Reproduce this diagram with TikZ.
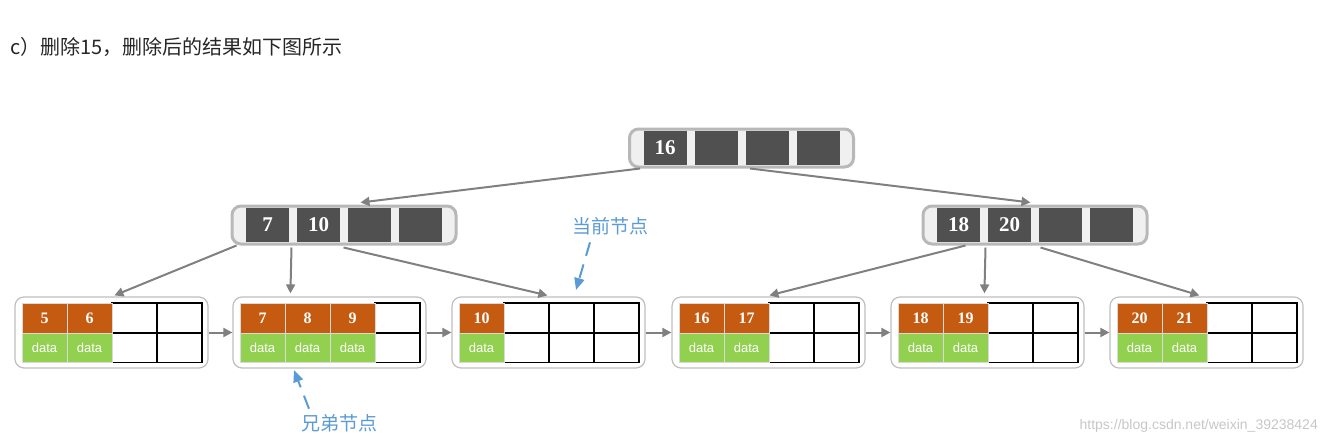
\documentclass[tikz,border=0pt]{standalone}
\usepackage{fontspec}
\setmainfont{Liberation Serif}
\newfontfamily\cjk{Noto Sans CJK SC}
\newfontfamily\sans{Liberation Sans}
\usetikzlibrary{calc,arrows.meta}
\definecolor{keyor}{HTML}{C55A11}
\definecolor{datagr}{HTML}{92D050}
\definecolor{darkc}{HTML}{505050}
\definecolor{conn}{HTML}{808080}
\definecolor{lblue}{HTML}{5B9BD5}
\tikzset{
 leaf/.style={draw=black!25,line width=1.2pt,rounded corners=9pt,fill=white,minimum width=193pt,minimum height=71pt,inner sep=0},
 inode/.style={draw=black!28,line width=3pt,rounded corners=9pt,fill=black!6,minimum width=224pt,minimum height=38pt,inner sep=0},
 dcell/.style={fill=darkc,minimum width=43pt,minimum height=34pt,inner sep=0,text=white,font=\bfseries\fontsize{21}{21}\selectfont},
 kcell/.style={fill=keyor,draw=black!15,line width=0.6pt,minimum width=45pt,minimum height=30pt,inner sep=0,text=white,font=\bfseries\fontsize{16}{16}\selectfont},
 gcell/.style={fill=datagr,draw=black!15,line width=0.6pt,minimum width=45pt,minimum height=29pt,inner sep=0,text=white,font=\sans\fontsize{13}{13}\selectfont},
 ecell/.style={draw=black,line width=1.3pt,minimum width=45pt,minimum height=30pt,inner sep=0},
 conn/.style={draw=conn,line width=2pt,-{Triangle[length=9pt,width=9pt]}},
 blbl/.style={text=lblue,font=\cjk\fontsize{19}{19}\selectfont},
 barr/.style={draw=lblue,line width=2pt,dash pattern=on 14pt off 9pt,-{Triangle[length=12pt,width=10pt]}}
}
\newcommand{\inodemk}[4]{% name, center x, y, keys
 \node[inode] (#1) at (#2,#3) {};
 \foreach \k [count=\i from 0] in {#4}{
   \node[dcell] (#1c\i) at ($(#1.center)+(-76.5+51*\i,0)$) {\k};
 }
}
\newcommand{\leafmk}[4]{% name, left x, keys, count
 \node[leaf] (#1) at (#2+96.5,332.5) {};
 \foreach \i in {0,...,3}{
   \ifnum\i<#4\relax
   \else
     \node[ecell] at (#2+29.5+45*\i,318) {};
     \node[ecell] at (#2+29.5+45*\i,347.5) {};
   \fi
 }
 \foreach \k [count=\i from 0] in {#3}{
   \node[kcell] (#1k\i) at (#2+29.5+45*\i,318) {\k};
   \node[gcell] (#1d\i) at (#2+29.5+45*\i,347.5) {data};
 }
}
\begin{document}
\begin{tikzpicture}[x=1pt,y=-1pt]
\useasboundingbox (0,0) rectangle (1327,445);
\node[anchor=west,font=\cjk\fontsize{20}{20}\selectfont,text=black!85,inner sep=0] (title) at (10,47) {c）删除15，删除后的结果如下图所示};
\inodemk{R}{741.5}{148}{16,,,}
\inodemk{A}{344}{225}{7,10,,}
\inodemk{B}{1035}{225}{18,20,,}
\leafmk{L1}{15}{5,6}{2}
\leafmk{L2}{233}{7,8,9}{3}
\leafmk{L3}{452}{10}{1}
\leafmk{L4}{672}{16,17}{2}
\leafmk{L5}{891}{18,19}{2}
\leafmk{L6}{1110}{20,21}{2}
\foreach \a/\b in {L1/L2,L2/L3,L3/L4,L4/L5,L5/L6}{
  \draw[conn] (\a.east) -- (\b.west);
}
\draw[conn] ($(R.south west)+(12,0)$) -- ($(A.north west)+(130,-2)$);
\draw[conn] ($(R.south west)+(122,0)$) -- ($(B.north west)+(109,-2)$);
\draw[conn] ($(A.south west)+(6,0)$) -- ($(L1.north west)+(100,-1)$);
\draw[conn] ($(A.south west)+(61,2)$) -- ($(L2.north west)+(58,-3)$);
\draw[conn] ($(A.south west)+(113,2)$) -- ($(L3.north west)+(96,-1)$);
\draw[conn] ($(B.south west)+(44,0)$) -- ($(L4.north west)+(98,-1)$);
\draw[conn] ($(B.south west)+(64,2)$) -- ($(L5.north west)+(94,-3)$);
\draw[conn] ($(B.south west)+(119,2)$) -- ($(L6.north west)+(90,-1)$);
\node[blbl] (cur) at (610,226) {当前节点};
\coordinate (curtip) at (576,290);
\draw[barr] ($(cur.south)+(-20,4)$) -- (curtip);
\node[blbl] (sib) at (339,423) {兄弟节点};
\coordinate (sibtip) at (294,370);
\draw[barr] ($(sib.north)+(-30,-2)$) -- (sibtip);
\node[anchor=east,text=black!22,font=\sans\fontsize{14}{14}\selectfont,inner sep=0] (wm) at (1318,426) {https://blog.csdn.net/weixin\_39238424};
\end{tikzpicture}
\end{document}
